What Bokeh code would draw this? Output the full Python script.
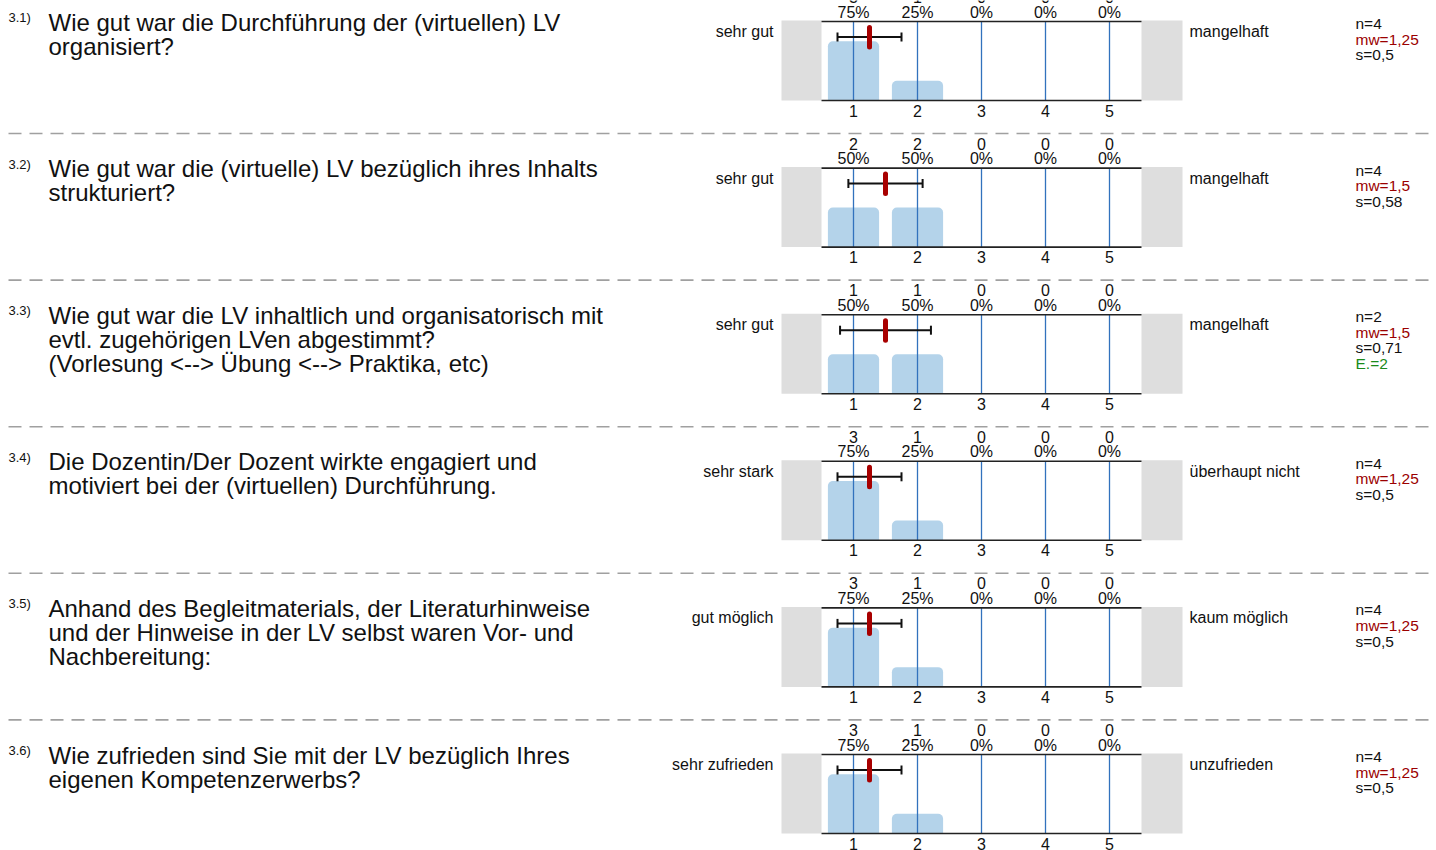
from bokeh.plotting import figure
from bokeh.models import Range1d
from bokeh.core.properties import value
from bokeh.embed import file_html
from bokeh.resources import INLINE

# ---------------- data ----------------
numbers = ["3.1)", "3.2)", "3.3)", "3.4)", "3.5)", "3.6)"]
questions = [
    "Wie gut war die Durchführung der (virtuellen) LV\norganisiert?",
    "Wie gut war die (virtuelle) LV bezüglich ihres Inhalts\nstrukturiert?",
    "Wie gut war die LV inhaltlich und organisatorisch mit\nevtl. zugehörigen LVen abgestimmt?\n(Vorlesung <--> Übung <--> Praktika, etc)",
    "Die Dozentin/Der Dozent wirkte engagiert und\nmotiviert bei der (virtuellen) Durchführung.",
    "Anhand des Begleitmaterials, der Literaturhinweise\nund der Hinweise in der LV selbst waren Vor- und\nNachbereitung:",
    "Wie zufrieden sind Sie mit der LV bezüglich Ihres\neigenen Kompetenzerwerbs?",
]
left_labels = ["sehr gut", "sehr gut", "sehr gut", "sehr stark", "gut möglich", "sehr zufrieden"]
right_labels = ["mangelhaft", "mangelhaft", "mangelhaft", "überhaupt nicht", "kaum möglich", "unzufrieden"]
ratings = [1, 2, 3, 4, 5]
counts = [
    [3, 1, 0, 0, 0],
    [2, 2, 0, 0, 0],
    [1, 1, 0, 0, 0],
    [3, 1, 0, 0, 0],
    [3, 1, 0, 0, 0],
    [3, 1, 0, 0, 0],
]
n_vals = [4, 4, 2, 4, 4, 4]
mw_vals = [1.25, 1.5, 1.5, 1.25, 1.25, 1.25]
s_vals = [0.5, 0.58, 0.71, 0.5, 0.5, 0.5]
e_vals = [None, None, 2, None, None, None]

# ---------------- layout ----------------
W, H = 1436, 850
PX_PER_UNIT = 64.0
X1_PX = 853                # pixel of rating 1
ROW0_TOP = 21
ROW_STEP = 146.6
BOX_H = 79
FONT = value("Liberation Sans")
TXT = "#111111"


def xv(px):
    return 1 + (px - X1_PX) / PX_PER_UNIT


x0 = xv(0)
x1 = xv(W)

p = figure(width=W, height=H, output_backend="svg", toolbar_location=None,
           x_range=Range1d(x0, x1), y_range=Range1d(-H, 0),
           x_axis_location=None, y_axis_location=None, min_border=0)
p.grid.visible = False
p.outline_line_color = None
p.background_fill_color = "white"
p.border_fill_color = "white"


def fmt(v):
    return ("%g" % v).replace(".", ",")


def label(x, y, t, size="16px", align="left", color=TXT):
    p.text(x=x, y=y, text=t, text_font=FONT, text_font_size=value(size),
           text_align=align, text_baseline="middle", text_color=color)


for i in range(len(questions)):
    top = -(ROW0_TOP + i * ROW_STEP)
    bot = top - BOX_H
    n = n_vals[i]
    pcts = [c / n for c in counts[i]]

    # grey side boxes
    p.quad(left=[xv(781), 5.5], right=[0.5, xv(1182)], top=[top + 1, top + 1], bottom=[bot, bot],
           fill_color="#dedede", line_color=None)
    # bars
    p.quad(left=[r - 0.4 for r in ratings], right=[r + 0.4 for r in ratings],
           bottom=[bot] * 5, top=[bot + pc * BOX_H for pc in pcts],
           fill_color="#b4d3ea", line_color=None, border_radius=(5, 5, 0, 0))
    # vertical rating lines
    p.segment(x0=ratings, x1=ratings, y0=[top] * 5, y1=[bot] * 5,
              line_color="#3272bd", line_width=1.3)
    # top/bottom frame lines
    p.segment(x0=[0.5, 0.5], x1=[5.5, 5.5], y0=[top, bot], y1=[top, bot],
              line_color="#222222", line_width=1.6)
    # error bar
    m, s = mw_vals[i], s_vals[i]
    ey = top - 15.5
    p.segment(x0=[m - s], x1=[m + s], y0=[ey], y1=[ey], line_color="#111111", line_width=2)
    p.segment(x0=[m - s, m + s], x1=[m - s, m + s], y0=[ey + 4.5] * 2, y1=[ey - 4.5] * 2,
              line_color="#111111", line_width=2)
    p.segment(x0=[m], x1=[m], y0=[top - 6], y1=[top - 25.5], line_color="#a80000",
              line_width=5, line_cap="round")

    # counts and percentages above, tick labels below
    label(ratings, [top + 9.5] * 5, ["%d%%" % round(pc * 100) for pc in pcts], align="center")
    label(ratings, [top + 24.5] * 5, [str(c) for c in counts[i]], align="center")
    label(ratings, [bot - 10] * 5, [str(r) for r in ratings], align="center")

    # side labels
    label([xv(773)], [top - 10], [left_labels[i]], align="right")
    label([xv(1189)], [top - 10], [right_labels[i]], align="left")

    # stats
    stats = [("n=%d" % n, TXT), ("mw=" + fmt(m), "#9b0000"), ("s=" + fmt(s), TXT)]
    if e_vals[i] is not None:
        stats.append(("E.=%d" % e_vals[i], "#1a8a1a"))
    for k, (t, c) in enumerate(stats):
        label([xv(1355)], [top - 2 - k * 15.6], [t], size="15.5px", color=c)

    # question number and text lines
    label([xv(8)], [top + 4], [numbers[i]], size="13px")
    for k, line in enumerate(questions[i].split("\n")):
        label([xv(48)], [top - 0.5 - 24 * k], [line], size="24px")

    # dashed separator
    if i < len(questions) - 1:
        sy = top - 112
        p.segment(x0=[xv(8)], x1=[x1], y0=[sy], y1=[sy], line_color="#a0a0a0",
                  line_width=1.6, line_dash="13 8")

open("out.html", "w").write(file_html(p, INLINE))
